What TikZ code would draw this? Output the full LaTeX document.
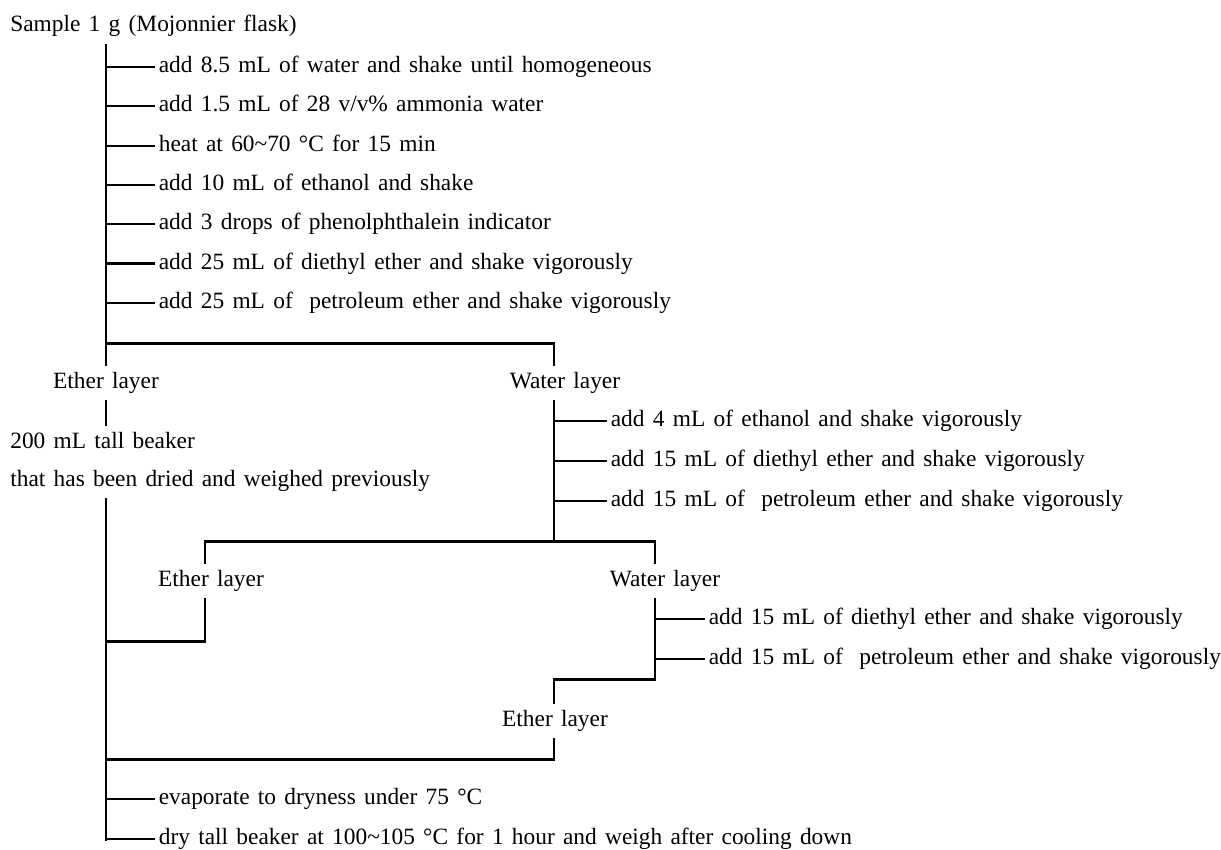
\documentclass[tikz,border=0pt]{standalone}
\usepackage{fontspec}
\setmainfont{Liberation Serif}[WordSpace=1.42]
\usepackage{tikz}
\tikzset{
  txt/.style={inner sep=0pt, text height=0.72em, text depth=0.08em,
    font=\fontsize{13.3}{16}\selectfont},
  stepnote/.style={txt, anchor=west, inner xsep=2pt},
  layer/.style={txt, inner ysep=5.5pt},
  trunk/.style={line width=1.7pt},
  twig/.style={line width=1.15pt}
}

\begin{document}
\begin{tikzpicture}[x=0.02cm, y=-0.02cm]
  \useasboundingbox (0,0) rectangle (1221,849);

  \node[stepnote, inner xsep=0pt] (sample) at (10,26) {Sample 1 g (Mojonnier flask)};
  \coordinate (top) at (106,44);

  \node[stepnote] (a1) at (155,67) {add 8.5 mL of water and shake until homogeneous};
  \node[stepnote] (a2) at (155,106.3) {add 1.5 mL of 28 v/v\% ammonia water};
  \node[stepnote] (a3) at (155,145.6) {heat at 60\textasciitilde70 °C for 15 min};
  \node[stepnote] (a4) at (155,184.9) {add 10 mL of ethanol and shake};
  \node[stepnote] (a5) at (155,224.2) {add 3 drops of phenolphthalein indicator};
  \node[stepnote] (a6) at (155,263.5) {add 25 mL of diethyl ether and shake vigorously};
  \node[stepnote] (a7) at (155,302.8) {add 25 mL of \ petroleum ether and shake vigorously};

  \node[layer] (e1) at (106,383) {Ether layer};
  \node[layer] (w1) at (565,383) {Water layer};
  \node[layer, anchor=west] (beaker) at (10,443) {200 mL tall beaker};
  \node[layer, anchor=west] (dried) at (10,481) {that has been dried and weighed previously};

  \node[stepnote] (b1) at (607,421) {add 4 mL of ethanol and shake vigorously};
  \node[stepnote] (b2) at (607,461) {add 15 mL of diethyl ether and shake vigorously};
  \node[stepnote] (b3) at (607,501) {add 15 mL of \ petroleum ether and shake vigorously};

  \node[layer] (e2) at (211,581) {Ether layer};
  \node[layer] (w2) at (665,581) {Water layer};

  \node[stepnote] (d1) at (705,619) {add 15 mL of diethyl ether and shake vigorously};
  \node[stepnote] (d2) at (705,659) {add 15 mL of \ petroleum ether and shake vigorously};

  \node[layer] (e3) at (555,721) {Ether layer};

  \node[stepnote] (f1) at (155,799) {evaporate to dryness under 75 °C};
  \node[stepnote] (f2) at (155,839) {dry tall beaker at 100\textasciitilde105 °C for 1 hour and weigh after cooling down};

  % junctions
  \coordinate (j1) at (106,343);
  \coordinate (j2) at (554,343);
  \coordinate (j3) at (205,541);
  \coordinate (j4) at (655,541);
  \coordinate (j5) at (106,641);
  \coordinate (j6) at (554,679);
  \coordinate (j7) at (106,759);

  % first separation
  \draw[trunk] (top) -- (top |- e1.north);
  \draw[trunk] (j1) -- (j2) -- (j2 |- w1.north);
  \draw[twig] (a1.west -| top) -- (a1.west);
  \draw[twig] (a2.west -| top) -- (a2.west);
  \draw[twig] (a3.west -| top) -- (a3.west);
  \draw[twig] (a4.west -| top) -- (a4.west);
  \draw[twig] (a5.west -| top) -- (a5.west);
  \draw[twig] (a6.west -| top) -- (a6.west);
  \draw[twig] (a7.west -| top) -- (a7.west);
  \draw[trunk] (e1.south -| top) -- (top |- beaker.north);

  % second separation
  \draw[trunk] (w1.south -| j2) -- (j2 |- j3);
  \draw[twig] (b1.west -| j2) -- (b1.west);
  \draw[twig] (b2.west -| j2) -- (b2.west);
  \draw[twig] (b3.west -| j2) -- (b3.west);
  \draw[trunk] (j3 |- e2.north) -- (j3) -- (j4) -- (j4 |- w2.north);
  \draw[trunk] (e2.south -| j3) |- (j5);

  % third separation
  \draw[trunk] (w2.south -| j4) |- (j6) -- (j6 |- e3.north);
  \draw[twig] (d1.west -| j4) -- (d1.west);
  \draw[twig] (d2.west -| j4) -- (d2.west);
  \draw[trunk] (j6 |- e3.south) |- (j7);

  % beaker
  \draw[trunk] (top |- dried.south) -- ([yshift=-0.85pt]f2.west -| top);
  \draw[twig] (f1.west -| top) -- (f1.west);
  \draw[twig] (f2.west -| top) -- (f2.west);
\end{tikzpicture}
\end{document}
